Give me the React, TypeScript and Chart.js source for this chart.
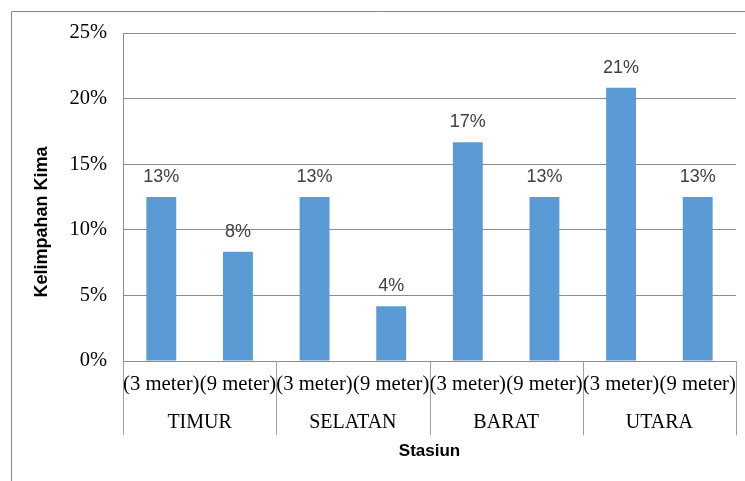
import React, { useEffect, useRef } from "react";
import { Chart, registerables } from "chart.js";

Chart.register(...registerables);

// Kelimpahan kima per stasiun dan kedalaman (%)
const stations = ["TIMUR", "SELATAN", "BARAT", "UTARA"];
const depths = ["(3 meter)", "(9 meter)"];
const abundance = [12.5, 8.33, 12.5, 4.17, 16.67, 12.5, 20.83, 12.5];
const yTicks = [0, 5, 10, 15, 20, 25];

const categories = stations.flatMap((s) => depths.map((d) => `${s} ${d}`));

const SERIF = "'Liberation Serif', 'Times New Roman', serif";
const SANS = "'Liberation Sans', Arial, sans-serif";
const GRID = "#8c8c8c";

const overlay = {
  id: "overlay",
  afterDraw(chart: any) {
    const { ctx, chartArea, scales } = chart;
    const x = scales.x;
    const w = chart.width;
    const h = chart.height;
    ctx.save();

    // outer frame
    ctx.strokeStyle = "#888888";
    ctx.lineWidth = 1;
    ctx.beginPath();
    ctx.moveTo(11.5, h);
    ctx.lineTo(11.5, 11.5);
    ctx.lineTo(w, 11.5);
    ctx.stroke();

    // depth labels
    ctx.fillStyle = "#000";
    ctx.font = `20.7px ${SERIF}`;
    ctx.textAlign = "center";
    ctx.textBaseline = "middle";
    categories.forEach((_, i) => {
      ctx.fillText(depths[i % depths.length], x.getPixelForValue(i), 385);
    });

    // station group separators and names
    const step = x.getPixelForValue(1) - x.getPixelForValue(0);
    ctx.strokeStyle = "#a0a0a0";
    ctx.lineWidth = 1;
    for (let g = 0; g <= stations.length; g++) {
      const px = Math.round(x.getPixelForValue(g * depths.length) - step / 2) + 0.5;
      ctx.beginPath();
      ctx.moveTo(px, chartArea.bottom);
      ctx.lineTo(px, 435);
      ctx.stroke();
    }
    ctx.font = `20px ${SERIF}`;
    stations.forEach((s, g) => {
      const cx = (x.getPixelForValue(g * 2) + x.getPixelForValue(g * 2 + 1)) / 2;
      ctx.fillText(s, cx, 423);
    });

    // axis titles
    ctx.font = `bold 17px ${SANS}`;
    ctx.fillText("Stasiun", (chartArea.left + chartArea.right) / 2, 451);
    ctx.translate(42, 222);
    ctx.rotate(-Math.PI / 2);
    ctx.font = `bold 18px ${SANS}`;
    ctx.fillText("Kelimpahan Kima", 0, 0);
    ctx.restore();
  },
  afterDatasetsDraw(chart: any) {
    const { ctx } = chart;
    const meta = chart.getDatasetMeta(0);
    ctx.save();
    ctx.fillStyle = "#404040";
    ctx.font = `18px ${SANS}`;
    ctx.textAlign = "center";
    ctx.textBaseline = "middle";
    meta.data.forEach((bar: any, i: number) => {
      ctx.fillText(`${Math.round(abundance[i])}%`, bar.x, bar.y - 20);
    });
    ctx.restore();
  },
};

export default function App() {
  const ref = useRef<HTMLCanvasElement>(null);

  useEffect(() => {
    if (!ref.current) return;
    const chart = new Chart(ref.current, {
      type: "bar",
      data: {
        labels: categories,
        datasets: [
          {
            data: abundance,
            backgroundColor: "#5b9bd5",
            categoryPercentage: 1,
            barPercentage: 0.39,
          },
        ],
      },
      options: {
        animation: false,
        responsive: false,
        layout: { padding: { top: 33, right: 9, left: 0, bottom: 0 } },
        plugins: { legend: { display: false }, tooltip: { enabled: false } },
        scales: {
          x: {
            offset: true,
            ticks: { display: false },
            grid: { display: false },
            border: { display: true, color: GRID },
            afterFit(scale: any) {
              scale.height = 120;
            },
          },
          y: {
            min: 0,
            max: 25,
            afterBuildTicks(scale: any) {
              scale.ticks = yTicks.map((v) => ({ value: v }));
            },
            ticks: {
              callback: (v: any) => `${v}%`,
              font: { family: SERIF, size: 20.5 },
              color: "#000",
              padding: 16,
            },
            grid: { color: GRID, drawTicks: false },
            border: { display: true, color: GRID },
            afterFit(scale: any) {
              scale.width = 123;
            },
          },
        },
      },
      plugins: [overlay],
    });
    return () => chart.destroy();
  }, []);

  return (
    <div style={{ position: "fixed", left: 0, top: 0, width: 745, height: 481, background: "#fff" }}>
      <canvas ref={ref} width={745} height={481} style={{ display: "block" }} />
    </div>
  );
}
